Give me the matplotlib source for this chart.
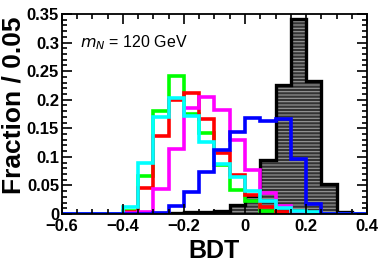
import numpy as np
import matplotlib
matplotlib.use("Agg")
import matplotlib.pyplot as plt
import matplotlib.ticker as mtick

# BDT histogram, 20 bins of 0.05 from -0.6 to 0.4
bin_edges = np.linspace(-0.6, 0.4, 21)

background = [0, 0, 0, 0, 0, 0, 0.001, 0.002, 0.003, 0.004, 0.006, 0.016,
              0.031, 0.094, 0.226, 0.341, 0.232, 0.053, 0.004, 0]
sig_green = [0, 0, 0, 0, 0.005, 0.066, 0.181, 0.241, 0.175, 0.141, 0.085, 0.042,
             0.023, 0.005, 0.002, 0, 0, 0, 0, 0]
sig_red = [0, 0, 0, 0, 0.004, 0.045, 0.137, 0.200, 0.212, 0.167, 0.106, 0.068,
           0.033, 0.013, 0.003, 0.001, 0, 0, 0, 0]
sig_magenta = [0, 0, 0, 0, 0.002, 0.004, 0.043, 0.113, 0.185, 0.205, 0.182, 0.130,
               0.077, 0.036, 0.014, 0.004, 0.001, 0, 0, 0]
sig_cyan = [0, 0, 0, 0, 0.013, 0.089, 0.170, 0.203, 0.172, 0.126, 0.088, 0.064,
            0.040, 0.023, 0.010, 0.005, 0.003, 0, 0, 0]
sig_blue = [0, 0, 0, 0, 0, 0, 0.002, 0.014, 0.039, 0.074, 0.112, 0.143,
            0.168, 0.162, 0.166, 0.097, 0.018, 0, 0, 0]

narrow = ["Liberation Sans Narrow", "Liberation Sans", "DejaVu Sans"]
plt.rcParams["font.family"] = narrow
plt.rcParams["mathtext.fontset"] = "custom"
plt.rcParams["mathtext.it"] = "Liberation Sans Narrow:italic"
plt.rcParams["mathtext.rm"] = "Liberation Sans Narrow"
plt.rcParams["hatch.linewidth"] = 0.8

fig = plt.figure(figsize=(3.82, 2.73), dpi=100)
ax = fig.add_axes([0.162, 0.216, 0.799, 0.733])

ax.stairs(background, bin_edges, fill=True, facecolor="#333333", edgecolor="#9a9a9a",
          hatch="-----", linewidth=0)
ax.stairs(background, bin_edges, color="black", linewidth=2.4)
for vals, col in [(sig_green, "#00ff00"), (sig_red, "#ff0000"), (sig_magenta, "#ff00ff"),
                  (sig_cyan, "#00ffff"), (sig_blue, "#0000ff")]:
    ax.stairs(vals, bin_edges, color=col, linewidth=2.6)

ax.set_xlim(-0.6, 0.4)
ax.set_ylim(0, 0.35)
ax.xaxis.set_major_locator(mtick.MultipleLocator(0.2))
ax.xaxis.set_minor_locator(mtick.MultipleLocator(0.05))
ax.yaxis.set_major_locator(mtick.MultipleLocator(0.05))
ax.yaxis.set_minor_locator(mtick.MultipleLocator(0.01))
ax.xaxis.set_major_formatter(mtick.FuncFormatter(lambda v, p: f"{v:.1f}".replace("-", "\u2212") if abs(v) > 1e-9 else "0"))
ax.yaxis.set_major_formatter(mtick.FuncFormatter(lambda v, p: f"{v:g}" if abs(v) > 1e-9 else "0"))
ax.tick_params(which="both", direction="in", top=True, right=True, width=1.2, labelsize=12)
ax.tick_params(which="major", length=7)
ax.tick_params(which="minor", length=3.5)
ax.tick_params(axis="y", pad=2)
for lab in ax.get_xticklabels() + ax.get_yticklabels():
    lab.set_fontweight("bold")
for sp in ax.spines.values():
    sp.set_linewidth(1.3)

ax.set_xlabel("BDT", fontsize=18, fontweight="bold", labelpad=4)
ax.set_ylabel("Fraction / 0.05", fontsize=19, fontweight="bold",
              family=["Liberation Sans", "DejaVu Sans"])
ax.yaxis.set_label_coords(-0.12, 0.545)
ax.text(0.06, 0.835, r"$m_N$ = 120 GeV", transform=ax.transAxes, fontsize=11.5, va="baseline")

fig.savefig("out.png", dpi=100)
